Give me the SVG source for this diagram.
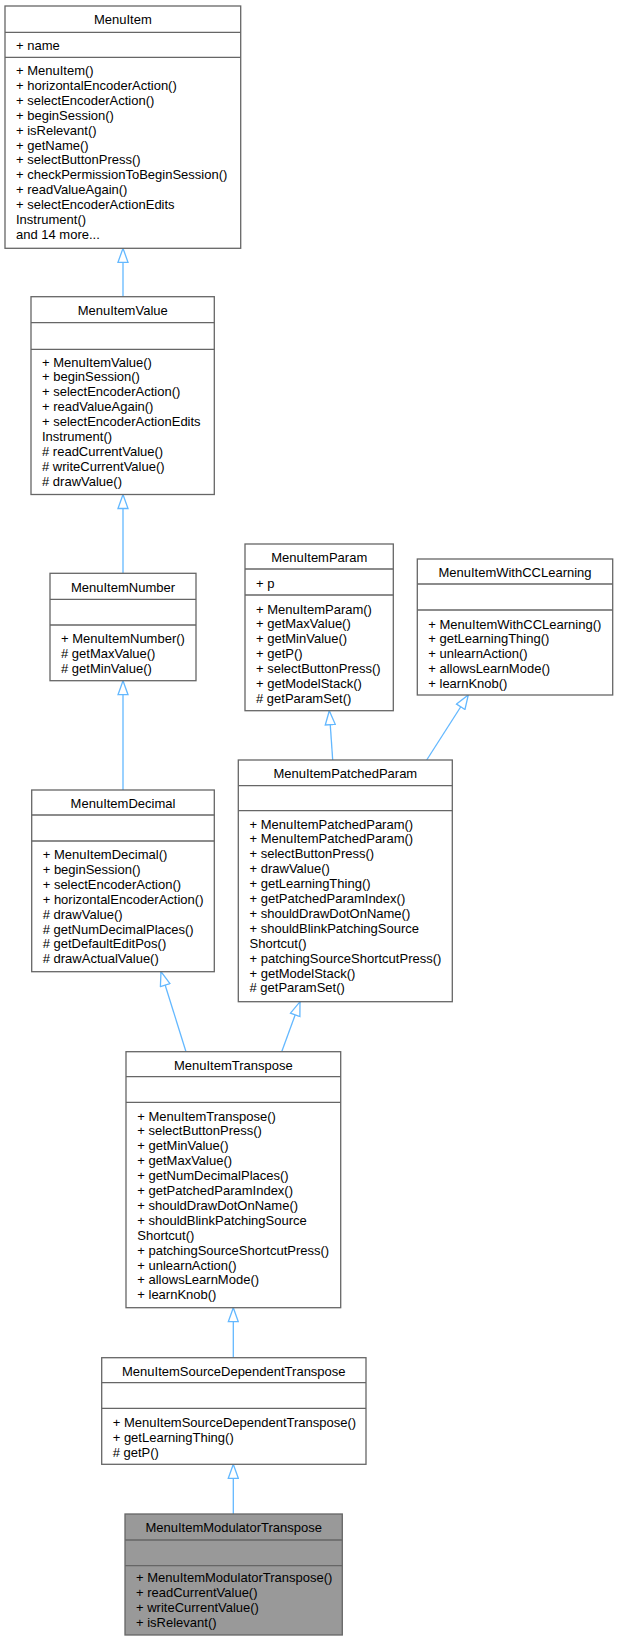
<svg xmlns="http://www.w3.org/2000/svg" width="618" height="1642" viewBox="0 0 618 1642">
<defs>
<style>
.box{fill:#ffffff;stroke:#666666;stroke-width:1.3}
.cur{fill:#999999;stroke:#666666;stroke-width:1.3}
.sep{stroke:#666666;stroke-width:1.3}
text{font-family:"Liberation Sans",Arial,Helvetica,sans-serif;font-size:13px;fill:#000000}
.t{text-anchor:middle}
.edge{fill:none;stroke:#63b8ff;stroke-width:1.3}
</style>
<marker id="inh" viewBox="0 0 16 12" markerWidth="16" markerHeight="12" refX="15" refY="6" orient="auto" markerUnits="userSpaceOnUse">
<path d="M1,1 L15,6 L1,11 Z" fill="#ffffff" stroke="#63b8ff" stroke-width="1.3"/>
</marker>
</defs>
<rect width="618" height="1642" fill="#ffffff"/>

<g id="connectors">
<path class="edge" d="M123,296.7 L123,248.3" marker-end="url(#inh)"/>
<path class="edge" d="M123,573.3 L123,494.5" marker-end="url(#inh)"/>
<path class="edge" d="M123,790 L123,680.7" marker-end="url(#inh)"/>
<path class="edge" d="M186,1051.7 L161,971.7" marker-end="url(#inh)"/>
<path class="edge" d="M281.7,1051.7 L300,1001.7" marker-end="url(#inh)"/>
<path class="edge" d="M332.7,760 L329.3,710.7" marker-end="url(#inh)"/>
<path class="edge" d="M426.7,760 L468.3,695" marker-end="url(#inh)"/>
<path class="edge" d="M233.3,1357.7 L233.3,1307.7" marker-end="url(#inh)"/>
<path class="edge" d="M233.3,1514 L233.3,1464.3" marker-end="url(#inh)"/>
</g>

<g id="MenuItem">
<rect class="box" x="5" y="6" width="235.7" height="242.3"/>
<line class="sep" x1="5" y1="32.3" x2="240.7" y2="32.3"/>
<line class="sep" x1="5" y1="57.3" x2="240.7" y2="57.3"/>
<text class="t" x="122.9" y="24">MenuItem</text>
<text x="16" y="49.5">+ name</text>
<text x="16" y="75">+ MenuItem()<tspan x="16" dy="14.9">+ horizontalEncoderAction()</tspan><tspan x="16" dy="14.9">+ selectEncoderAction()</tspan><tspan x="16" dy="14.9">+ beginSession()</tspan><tspan x="16" dy="14.9">+ isRelevant()</tspan><tspan x="16" dy="14.9">+ getName()</tspan><tspan x="16" dy="14.9">+ selectButtonPress()</tspan><tspan x="16" dy="14.9">+ checkPermissionToBeginSession()</tspan><tspan x="16" dy="14.9">+ readValueAgain()</tspan><tspan x="16" dy="14.9">+ selectEncoderActionEdits</tspan><tspan x="16" dy="14.9">Instrument()</tspan><tspan x="16" dy="14.9">and 14 more...</tspan></text>
</g>

<g id="MenuItemValue">
<rect class="box" x="31" y="296.7" width="183.3" height="197.8"/>
<line class="sep" x1="31" y1="322.7" x2="214.3" y2="322.7"/>
<line class="sep" x1="31" y1="349.3" x2="214.3" y2="349.3"/>
<text class="t" x="122.7" y="314.7">MenuItemValue</text>
<text x="42" y="366.5">+ MenuItemValue()<tspan x="42" dy="14.9">+ beginSession()</tspan><tspan x="42" dy="14.9">+ selectEncoderAction()</tspan><tspan x="42" dy="14.9">+ readValueAgain()</tspan><tspan x="42" dy="14.9">+ selectEncoderActionEdits</tspan><tspan x="42" dy="14.9">Instrument()</tspan><tspan x="42" dy="14.9"># readCurrentValue()</tspan><tspan x="42" dy="14.9"># writeCurrentValue()</tspan><tspan x="42" dy="14.9"># drawValue()</tspan></text>
</g>

<g id="MenuItemNumber">
<rect class="box" x="50" y="573.3" width="146" height="107.4"/>
<line class="sep" x1="50" y1="599.3" x2="196" y2="599.3"/>
<line class="sep" x1="50" y1="625" x2="196" y2="625"/>
<text class="t" x="123" y="591.5">MenuItemNumber</text>
<text x="61" y="643">+ MenuItemNumber()<tspan x="61" dy="14.9"># getMaxValue()</tspan><tspan x="61" dy="14.9"># getMinValue()</tspan></text>
</g>

<g id="MenuItemDecimal">
<rect class="box" x="31.7" y="790" width="182.6" height="181.7"/>
<line class="sep" x1="31.7" y1="815" x2="214.3" y2="815"/>
<line class="sep" x1="31.7" y1="841" x2="214.3" y2="841"/>
<text class="t" x="123" y="808">MenuItemDecimal</text>
<text x="42.7" y="859">+ MenuItemDecimal()<tspan x="42.7" dy="14.9">+ beginSession()</tspan><tspan x="42.7" dy="14.9">+ selectEncoderAction()</tspan><tspan x="42.7" dy="14.9">+ horizontalEncoderAction()</tspan><tspan x="42.7" dy="14.9"># drawValue()</tspan><tspan x="42.7" dy="14.9"># getNumDecimalPlaces()</tspan><tspan x="42.7" dy="14.9"># getDefaultEditPos()</tspan><tspan x="42.7" dy="14.9"># drawActualValue()</tspan></text>
</g>

<g id="MenuItemParam">
<rect class="box" x="245" y="544" width="148.3" height="166.7"/>
<line class="sep" x1="245" y1="569" x2="393.3" y2="569"/>
<line class="sep" x1="245" y1="595" x2="393.3" y2="595"/>
<text class="t" x="319.2" y="562">MenuItemParam</text>
<text x="256" y="587.5">+ p</text>
<text x="256" y="613.5">+ MenuItemParam()<tspan x="256" dy="14.9">+ getMaxValue()</tspan><tspan x="256" dy="14.9">+ getMinValue()</tspan><tspan x="256" dy="14.9">+ getP()</tspan><tspan x="256" dy="14.9">+ selectButtonPress()</tspan><tspan x="256" dy="14.9">+ getModelStack()</tspan><tspan x="256" dy="14.9"># getParamSet()</tspan></text>
</g>

<g id="MenuItemWithCCLearning">
<rect class="box" x="417.3" y="559" width="195.4" height="136"/>
<line class="sep" x1="417.3" y1="584" x2="612.7" y2="584"/>
<line class="sep" x1="417.3" y1="610" x2="612.7" y2="610"/>
<text class="t" x="515" y="577">MenuItemWithCCLearning</text>
<text x="428.3" y="628.5">+ MenuItemWithCCLearning()<tspan x="428.3" dy="14.9">+ getLearningThing()</tspan><tspan x="428.3" dy="14.9">+ unlearnAction()</tspan><tspan x="428.3" dy="14.9">+ allowsLearnMode()</tspan><tspan x="428.3" dy="14.9">+ learnKnob()</tspan></text>
</g>

<g id="MenuItemPatchedParam">
<rect class="box" x="238.3" y="760" width="214" height="241.7"/>
<line class="sep" x1="238.3" y1="785.7" x2="452.3" y2="785.7"/>
<line class="sep" x1="238.3" y1="810.7" x2="452.3" y2="810.7"/>
<text class="t" x="345.3" y="778">MenuItemPatchedParam</text>
<text x="249.5" y="828.5">+ MenuItemPatchedParam()<tspan x="249.5" dy="14.9">+ MenuItemPatchedParam()</tspan><tspan x="249.5" dy="14.9">+ selectButtonPress()</tspan><tspan x="249.5" dy="14.9">+ drawValue()</tspan><tspan x="249.5" dy="14.9">+ getLearningThing()</tspan><tspan x="249.5" dy="14.9">+ getPatchedParamIndex()</tspan><tspan x="249.5" dy="14.9">+ shouldDrawDotOnName()</tspan><tspan x="249.5" dy="14.9">+ shouldBlinkPatchingSource</tspan><tspan x="249.5" dy="14.9">Shortcut()</tspan><tspan x="249.5" dy="14.9">+ patchingSourceShortcutPress()</tspan><tspan x="249.5" dy="14.9">+ getModelStack()</tspan><tspan x="249.5" dy="14.9"># getParamSet()</tspan></text>
</g>

<g id="MenuItemTranspose">
<rect class="box" x="126" y="1051.7" width="214.7" height="256"/>
<line class="sep" x1="126" y1="1076.7" x2="340.7" y2="1076.7"/>
<line class="sep" x1="126" y1="1102.3" x2="340.7" y2="1102.3"/>
<text class="t" x="233.3" y="1069.5">MenuItemTranspose</text>
<text x="137.3" y="1120.5">+ MenuItemTranspose()<tspan x="137.3" dy="14.9">+ selectButtonPress()</tspan><tspan x="137.3" dy="14.9">+ getMinValue()</tspan><tspan x="137.3" dy="14.9">+ getMaxValue()</tspan><tspan x="137.3" dy="14.9">+ getNumDecimalPlaces()</tspan><tspan x="137.3" dy="14.9">+ getPatchedParamIndex()</tspan><tspan x="137.3" dy="14.9">+ shouldDrawDotOnName()</tspan><tspan x="137.3" dy="14.9">+ shouldBlinkPatchingSource</tspan><tspan x="137.3" dy="14.9">Shortcut()</tspan><tspan x="137.3" dy="14.9">+ patchingSourceShortcutPress()</tspan><tspan x="137.3" dy="14.9">+ unlearnAction()</tspan><tspan x="137.3" dy="14.9">+ allowsLearnMode()</tspan><tspan x="137.3" dy="14.9">+ learnKnob()</tspan></text>
</g>

<g id="MenuItemSourceDependentTranspose">
<rect class="box" x="101.7" y="1357.7" width="264.3" height="106.6"/>
<line class="sep" x1="101.7" y1="1382.7" x2="366" y2="1382.7"/>
<line class="sep" x1="101.7" y1="1408.3" x2="366" y2="1408.3"/>
<text class="t" x="233.8" y="1376">MenuItemSourceDependentTranspose</text>
<text x="112.7" y="1427">+ MenuItemSourceDependentTranspose()<tspan x="112.7" dy="14.9">+ getLearningThing()</tspan><tspan x="112.7" dy="14.9"># getP()</tspan></text>
</g>

<g id="MenuItemModulatorTranspose">
<rect class="cur" x="125" y="1514" width="217.3" height="121"/>
<line class="sep" x1="125" y1="1540" x2="342.3" y2="1540"/>
<line class="sep" x1="125" y1="1565.7" x2="342.3" y2="1565.7"/>
<text class="t" x="233.7" y="1532.3">MenuItemModulatorTranspose</text>
<text x="136" y="1582">+ MenuItemModulatorTranspose()<tspan x="136" dy="14.9">+ readCurrentValue()</tspan><tspan x="136" dy="14.9">+ writeCurrentValue()</tspan><tspan x="136" dy="14.9">+ isRelevant()</tspan></text>
</g>
</svg>
